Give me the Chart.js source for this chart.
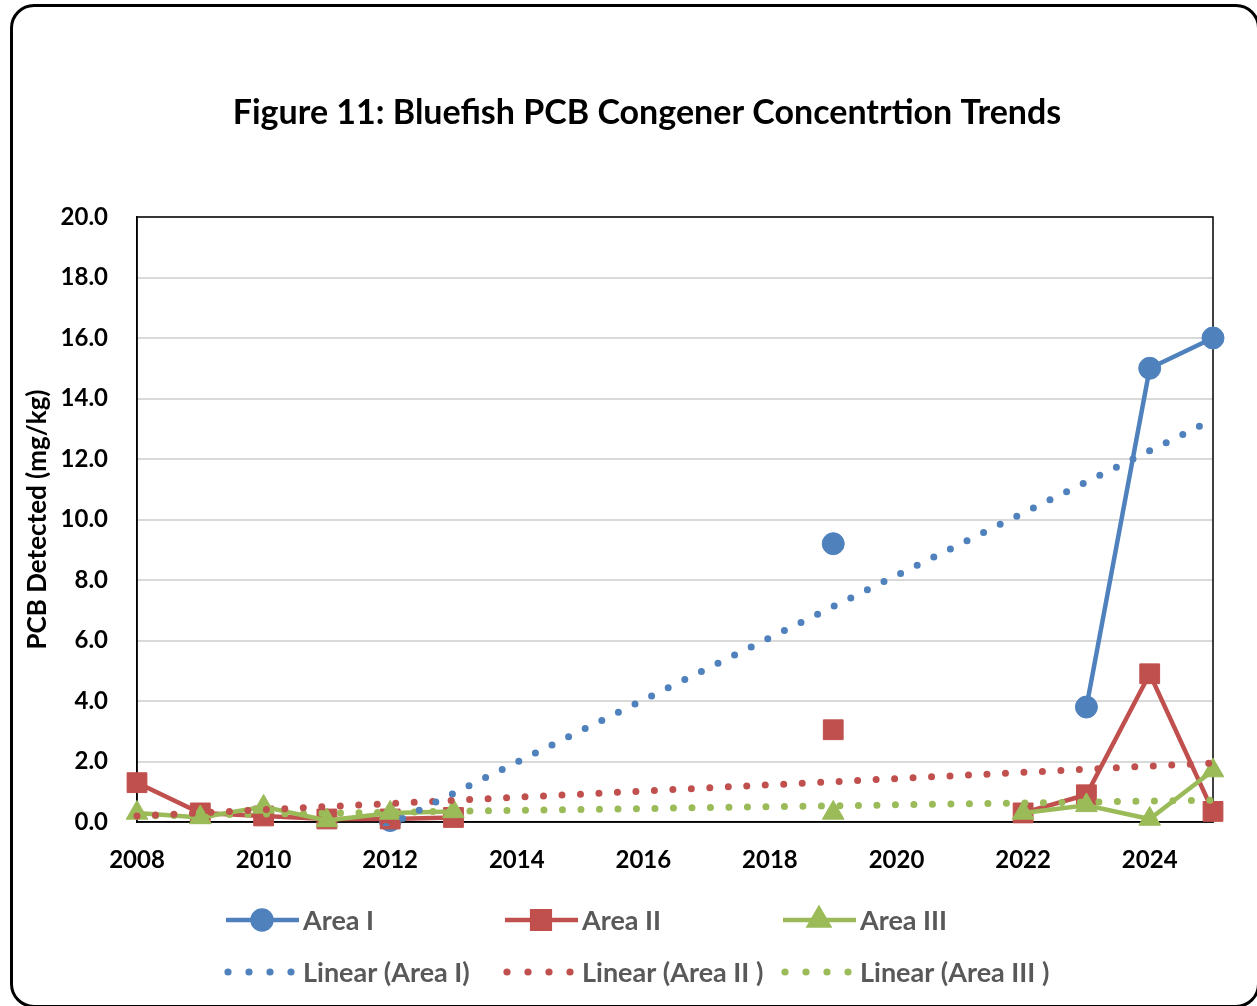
<!DOCTYPE html>
<html>
<head>
<meta charset="utf-8">
<title>Figure 11</title>
<script src="https://cdn.jsdelivr.net/npm/chart.js@4"></script>
<style>
  html, body { margin: 0; padding: 0; background: #fff; overflow: hidden; }
  #wrap { position: relative; width: 1257px; height: 1006px; }
  #frame {
    position: absolute; left: 10px; top: 4px; width: 1250px; height: 1004px;
    border: 3px solid #000; border-radius: 24px; box-sizing: border-box; pointer-events: none;
  }
</style>
</head>
<body>
<div id="wrap">
  <canvas id="chart" width="1257" height="1006"></canvas>
  <div id="frame"></div>
</div>
<script>
'use strict';

// --- DATA ---
const years = [2008, 2009, 2010, 2011, 2012, 2013, 2014, 2015, 2016, 2017, 2018, 2019, 2020, 2021, 2022, 2023, 2024, 2025];
const areaI   = [null, null, null, null, 0.05, null, null, null, null, null, null, 9.2, null, null, null, 3.8, 15.0, 16.0];
const areaII  = [1.3, 0.3, 0.2, 0.1, 0.1, 0.15, null, null, null, null, null, 3.05, null, null, 0.3, 0.9, 4.9, 0.35];
const areaIII = [0.3, 0.15, 0.5, 0.05, 0.3, 0.35, null, null, null, null, null, 0.3, null, null, 0.3, 0.55, 0.1, 1.7];

// trend lines (at both ends)
const trendYears = [2008, 2025];
const trendI   = [-4.2, 13.3];
const trendII  = [0.2, 1.95];
const trendIII = [0.2, 0.72];

const chartTitle = 'Figure 11: Bluefish PCB Congener Concentrtion Trends';
const seriesNames = ['Area I', 'Area II', 'Area III'];
const trendNames = ['Linear (Area I)', 'Linear (Area II )', 'Linear (Area III )'];
const colors = ['#4f81bd', '#c0504d', '#9bbb59'];

const FONT = "'Lato', 'Open Sans', sans-serif";

const toPoints = (xs, ys) => xs.map((x, i) => ({ x: x, y: ys[i] }));

function series(label, values, color, style, radius, order) {
    return {
        label: label,
        data: toPoints(years, values),
        borderColor: color,
        backgroundColor: color,
        borderWidth: 4.5,
        pointStyle: style,
        pointRadius: radius,
        pointBorderWidth: 1,
        pointBorderColor: color,
        pointBackgroundColor: color,
        tension: 0,
        spanGaps: false,
        clip: false,
        order: order
    };
}

function trend(label, values, color) {
    return {
        label: label,
        data: toPoints(trendYears, values),
        borderColor: color,
        backgroundColor: color,
        borderWidth: 7,
        borderDash: [0, 18.5],
        borderCapStyle: 'round',
        pointRadius: 0,
        tension: 0,
        clip: 4,
        order: 0
    };
}

// title, centred the way Excel placed it
const topTitle = {
    id: 'topTitle',
    afterDraw(chart) {
        const ctx = chart.ctx;
        ctx.save();
        ctx.font = 'bold 34px ' + FONT;
        ctx.fillStyle = '#000';
        ctx.textAlign = 'center';
        ctx.textBaseline = 'middle';
        ctx.fillText(chartTitle, 647, 113);
        ctx.restore();
    }
};

// plot area frame (Excel draws a box round the plot)
const plotFrame = {
    id: 'plotFrame',
    beforeDatasetsDraw(chart) {
        const a = chart.chartArea;
        const ctx = chart.ctx;
        ctx.save();
        ctx.strokeStyle = '#000';
        ctx.lineWidth = 1.5;
        ctx.strokeRect(a.left, a.top, a.right - a.left, a.bottom - a.top);
        ctx.restore();
    }
};

// two-row legend below the plot
const bottomLegend = {
    id: 'bottomLegend',
    afterDraw(chart) {
        const ctx = chart.ctx;
        const cols = [226, 505, 783];
        const rowY = [920, 972];
        const ds = chart.data.datasets;
        ctx.save();
        ctx.font = 'bold 27px ' + FONT;
        ctx.textBaseline = 'middle';
        ctx.textAlign = 'left';
        for (let i = 0; i < 3; i++) {
            const x0 = cols[i];
            const s = ds[i];
            // line sample with marker
            ctx.strokeStyle = s.borderColor;
            ctx.lineWidth = 4.5;
            ctx.beginPath();
            ctx.moveTo(x0, rowY[0]);
            ctx.lineTo(x0 + 73, rowY[0]);
            ctx.stroke();
            ctx.fillStyle = s.borderColor;
            Chart.helpers.drawPoint(ctx, {
                pointStyle: s.pointStyle, radius: s.pointRadius - 1.5, borderWidth: 1, rotation: 0
            }, x0 + 36, rowY[0]);
            ctx.fill();
            ctx.fillStyle = '#595959';
            ctx.fillText(seriesNames[i], x0 + 77, rowY[0] + 1);

            // dotted sample
            const t = ds[i + 3];
            ctx.fillStyle = t.borderColor;
            for (let k = 0; k < 4; k++) {
                ctx.beginPath();
                ctx.arc(x0 + 2 + k * 21, rowY[1], 3.6, 0, Math.PI * 2);
                ctx.fill();
            }
            ctx.fillStyle = '#595959';
            ctx.fillText(trendNames[i], x0 + 77, rowY[1] + 1);
        }
        ctx.restore();
    }
};

const ctx = document.getElementById('chart').getContext('2d');

new Chart(ctx, {
    type: 'line',
    data: {
        datasets: [
            series(seriesNames[0], areaI, colors[0], 'circle', 11, 3),
            series(seriesNames[1], areaII, colors[1], 'rect', 14, 2),
            series(seriesNames[2], areaIII, colors[2], 'triangle', 12.5, 1),
            trend(trendNames[0], trendI, colors[0]),
            trend(trendNames[1], trendII, colors[1]),
            trend(trendNames[2], trendIII, colors[2])
        ]
    },
    options: {
        responsive: false,
        animation: false,
        events: [],
        layout: { padding: { left: 0, right: 44, top: 217, bottom: 0 } },
        plugins: {
            legend: { display: false },
            tooltip: { enabled: false },
            title: { display: false }
        },
        scales: {
            x: {
                type: 'linear',
                min: 2008,
                max: 2025,
                grid: { display: false, drawTicks: false },
                border: { display: true, color: '#000', width: 1.5 },
                ticks: {
                    stepSize: 2,
                    includeBounds: false,
                    padding: 24,
                    color: '#000',
                    font: { family: FONT, size: 24, weight: 'bold', lineHeight: 1.2 },
                    callback: v => String(v)
                },
                afterFit: scale => { scale.height = 184; }
            },
            y: {
                min: 0,
                max: 20,
                grid: { color: '#d9d9d9', lineWidth: 2, drawTicks: false },
                border: { display: true, color: '#000', width: 1.5 },
                ticks: {
                    stepSize: 2,
                    padding: 29,
                    color: '#000',
                    font: { family: FONT, size: 24, weight: 'bold', lineHeight: 1.2 },
                    callback: v => v.toFixed(1)
                },
                title: {
                    display: true,
                    text: 'PCB Detected (mg/kg)',
                    color: '#000',
                    font: { family: FONT, size: 26, weight: 'bold', lineHeight: 1.2 },
                    padding: { top: 22, bottom: 0 }
                },
                afterFit: scale => { scale.width = 137; }
            }
        }
    },
    plugins: [plotFrame, bottomLegend, topTitle]
});
</script>
</body>
</html>
